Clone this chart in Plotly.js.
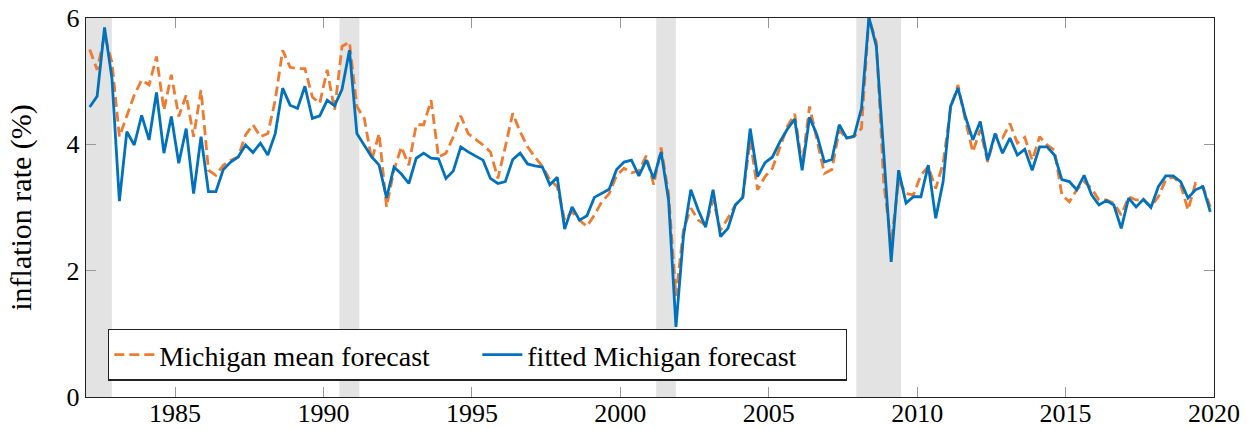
<!DOCTYPE html>
<html>
<head>
<meta charset="utf-8">
<script src="https://cdn.plot.ly/plotly-3.0.1.min.js"></script>
<style>html,body{margin:0;padding:0;background:#fff;}#chart{width:1247px;height:429px;}</style>
</head>
<body>
<div id="chart"></div>
<script>
// Quarterly observations starting 1982Q1 (plotted at mid-quarter)
const startYear = 1982.125;
const quarterStep = 0.25;

const michiganMean = [
  5.50, 5.18, 5.73, 5.30, 4.12, 4.44, 4.78, 5.02, 4.94, 5.39, 4.54, 5.10, 4.44, 4.78, 4.12, 4.86, 3.59, 3.51, 3.67, 3.75, 3.80, 4.15, 4.31, 4.12, 4.17, 4.70,
  5.49, 5.22, 5.20, 5.20, 4.75, 4.65, 5.18, 4.54, 5.55, 5.62, 4.60, 4.41, 3.75, 4.17, 3.01, 3.59, 3.96, 3.67, 4.31, 4.31, 4.70, 3.80, 3.86, 4.12,
  4.45, 4.17, 4.08, 3.99, 3.88, 3.46, 3.96, 4.49, 4.20, 3.96, 3.80, 3.65, 3.44, 3.33, 2.80, 2.93, 2.80, 2.70, 2.88, 3.09, 3.22, 3.51, 3.62, 3.55, 3.58, 3.82, 3.36,
  3.95, 3.22, 1.60, 2.64, 2.99, 2.80, 2.72, 3.12, 2.64, 2.83, 3.04, 3.16, 4.07, 3.28, 3.49, 3.62, 3.96, 4.28, 4.48, 3.67, 4.60, 4.07, 3.54, 3.60, 4.22,
  4.10, 4.12, 4.25, 6.00, 5.62, 3.38, 2.43, 3.43, 3.22, 3.20, 3.51, 3.65, 3.30, 3.70, 4.57, 4.94, 4.38, 3.88, 4.23, 3.72, 4.15, 4.10, 4.33, 4.02,
  4.11, 3.75, 4.12, 3.99, 3.91, 3.20, 3.09, 3.28, 3.41, 3.30, 3.12, 3.12, 3.07, 2.88, 3.17, 3.12, 3.12, 3.01, 3.17, 3.44, 3.49, 3.36, 2.96, 3.38, 3.33, 3.01
];

const fittedMichigan = [
  4.59, 4.76, 5.85, 5.04, 3.10, 4.20, 3.99, 4.46, 4.07, 4.82, 3.86, 4.44, 3.70, 4.25, 3.22, 4.12, 3.25, 3.25, 3.60, 3.72, 3.80, 3.99, 3.87, 4.02, 3.83, 4.17,
  4.89, 4.62, 4.57, 4.92, 4.41, 4.45, 4.70, 4.61, 4.87, 5.49, 4.17, 3.99, 3.80, 3.67, 3.15, 3.64, 3.53, 3.38, 3.78, 3.86, 3.78, 3.77, 3.46, 3.58,
  3.96, 3.88, 3.82, 3.75, 3.46, 3.38, 3.41, 3.76, 3.86, 3.69, 3.66, 3.64, 3.36, 3.48, 2.66, 3.01, 2.80, 2.87, 3.16, 3.23, 3.29, 3.60, 3.72, 3.75, 3.50, 3.75, 3.46,
  3.88, 3.12, 1.11, 2.54, 3.28, 2.96, 2.69, 3.28, 2.54, 2.67, 3.04, 3.16, 4.25, 3.49, 3.71, 3.80, 4.04, 4.24, 4.40, 3.59, 4.43, 4.15, 3.72, 3.76, 4.31,
  4.10, 4.13, 4.57, 6.01, 5.55, 3.86, 2.14, 3.59, 3.07, 3.17, 3.17, 3.67, 2.83, 3.41, 4.60, 4.89, 4.44, 4.07, 4.36, 3.75, 4.17, 3.86, 4.10, 3.83,
  3.92, 3.59, 3.96, 3.96, 3.83, 3.44, 3.41, 3.28, 3.51, 3.20, 3.04, 3.11, 3.04, 2.67, 3.15, 3.01, 3.13, 3.00, 3.33, 3.50, 3.50, 3.41, 3.15, 3.28, 3.33, 2.93
];

const recessionStart = [1981.9, 1990.54, 2001.21, 2007.95];
const recessionEnd   = [1982.87, 1991.21, 2001.87, 2009.46];

const xTickValues = [1985, 1990, 1995, 2000, 2005, 2010, 2015, 2020];
const yTickValues = [0, 2, 4, 6];

const seriesNames = ['Michigan mean forecast', 'fitted Michigan forecast'];

const dates = michiganMean.map((_, i) => startYear + quarterStep * i);

const FONT = '"Liberation Serif", "Times New Roman", serif';

const traces = [
  {
    x: dates, y: michiganMean, type: 'scatter', mode: 'lines',
    name: seriesNames[0],
    line: {color: '#EE7B30', width: 2.8, dash: '10px,5px'}
  },
  {
    x: dates, y: fittedMichigan, type: 'scatter', mode: 'lines',
    name: seriesNames[1],
    line: {color: '#0072BD', width: 2.8}
  }
];

const shapes = recessionStart.map((s, i) => ({
  type: 'rect', xref: 'x', yref: 'y',
  x0: s, x1: recessionEnd[i], y0: 0, y1: 6,
  fillcolor: '#e3e3e3', line: {width: 0}, layer: 'below'
}));

const axisCommon = {
  showgrid: false, zeroline: false,
  showline: true, linecolor: '#222', linewidth: 1.3, mirror: 'ticks',
  ticks: 'inside', ticklen: 10, tickcolor: '#999', tickwidth: 1,
  tickfont: {family: FONT, size: 26, color: '#000'}
};

const layout = {
  width: 1247, height: 429,
  margin: {l: 86, r: 33, t: 18, b: 32},
  paper_bgcolor: '#fff', plot_bgcolor: '#fff',
  font: {family: FONT, color: '#000'},
  showlegend: true,
  legend: {
    orientation: 'h', x: 0.0195, y: 0.043, xanchor: 'left', yanchor: 'bottom',
    bgcolor: '#fff', bordercolor: '#222', borderwidth: 1.3,
    font: {family: FONT, size: 28, color: '#000'},
    entrywidth: 313, entrywidthmode: 'pixels', itemwidth: 40
  },
  xaxis: Object.assign({}, axisCommon, {
    range: [1982, 2020], tickmode: 'array', tickvals: xTickValues,
    ticktext: xTickValues.map(String), ticklabelstandoff: -8
  }),
  yaxis: Object.assign({}, axisCommon, {
    range: [0, 6], tickmode: 'array', tickvals: yTickValues,
    ticktext: yTickValues.map(String),
    title: {text: 'inflation rate (%)', font: {family: FONT, size: 30, color: '#000'}, standoff: 26}
  }),
  shapes: shapes
};

Plotly.newPlot('chart', traces, layout, {displayModeBar: false, staticPlot: true});
</script>
</body>
</html>
